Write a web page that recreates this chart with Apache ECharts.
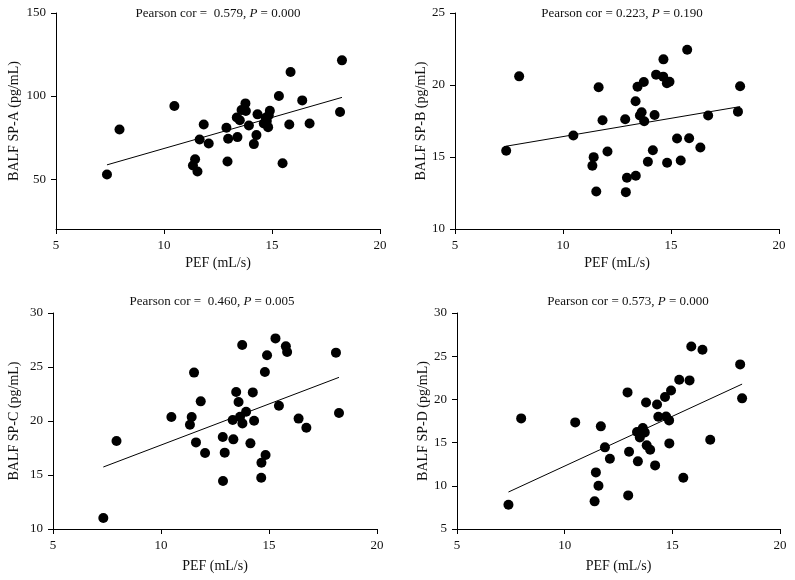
<!DOCTYPE html>
<html>
<head>
<meta charset="utf-8">
<script src="https://cdn.jsdelivr.net/npm/echarts@6/dist/echarts.min.js"></script>
<style>html,body{margin:0;padding:0;background:#fff}#c{width:795px;height:580px}</style>
</head>
<body>
<div id="c"></div>
<script>
// ---- Data ----
const xTicks = [5, 10, 15, 20];

const pefA = [7.36, 7.94, 10.48, 11.44, 11.34, 11.55, 11.65, 11.84, 12.07, 12.89, 12.97, 12.94, 13.37, 13.40, 13.51, 13.59, 13.77, 13.79, 13.93, 14.16, 14.28, 14.33, 14.62, 14.71, 14.82, 14.90, 14.76, 15.32, 15.49, 15.86, 15.80, 16.40, 16.74, 18.15, 18.24, 14.85];
const spA  = [52.8, 79.9, 94.0, 62.0, 58.2, 54.6, 73.9, 82.9, 71.5, 80.9, 74.3, 60.6, 87.1, 75.3, 85.5, 91.6, 95.6, 91.0, 82.3, 71.1, 76.5, 89.0, 83.5, 86.9, 81.3, 91.2, 85.0, 100.0, 59.6, 114.5, 82.9, 97.4, 83.5, 90.4, 121.5, 88.5];
const fitA = [[7.36, 58.6], [18.24, 99.2]];

const pefB = [7.37, 7.97, 10.48, 11.36, 11.42, 11.54, 11.65, 11.83, 12.06, 12.88, 12.96, 12.91, 13.36, 13.37, 13.45, 13.56, 13.64, 13.74, 13.76, 13.93, 14.16, 14.24, 14.31, 14.64, 14.65, 14.81, 14.93, 14.82, 15.28, 15.45, 15.75, 15.84, 16.36, 16.72, 18.10, 18.20];
const spB  = [15.43, 20.60, 16.49, 14.39, 14.99, 12.61, 19.84, 17.55, 15.38, 17.62, 13.56, 12.56, 18.87, 13.70, 19.88, 17.88, 18.11, 20.21, 17.48, 14.67, 15.47, 17.92, 20.72, 20.58, 21.78, 20.12, 20.23, 14.60, 16.28, 14.76, 22.45, 16.30, 15.66, 17.88, 18.15, 19.91];
const fitB = [[7.37, 15.75], [18.20, 18.50]];

const pefC = [7.33, 7.94, 10.48, 11.34, 11.42, 11.53, 11.62, 11.84, 12.04, 12.86, 12.95, 12.87, 13.32, 13.35, 13.48, 13.59, 13.66, 13.76, 13.77, 13.94, 14.14, 14.25, 14.31, 14.64, 14.65, 14.81, 14.84, 14.91, 15.30, 15.46, 15.78, 15.84, 16.37, 16.73, 18.10, 18.24];
const spC  = [11.02, 18.15, 20.37, 19.66, 20.37, 24.48, 18.02, 21.82, 17.04, 18.52, 17.07, 14.44, 20.09, 18.30, 22.69, 21.76, 20.40, 27.04, 19.78, 20.86, 17.93, 22.65, 20.03, 14.75, 16.14, 24.54, 16.85, 26.08, 27.65, 21.42, 26.91, 26.39, 20.22, 19.38, 26.33, 20.74];
const fitC = [[7.33, 15.74], [18.24, 24.04]];

const pefD = [7.39, 7.98, 10.49, 11.39, 11.45, 11.57, 11.68, 11.87, 12.10, 12.92, 12.99, 12.95, 13.40, 13.36, 13.49, 13.56, 13.63, 13.72, 13.78, 13.81, 13.97, 14.20, 14.29, 14.35, 14.66, 14.71, 14.85, 14.86, 14.94, 15.32, 15.51, 15.80, 15.88, 16.40, 16.76, 18.15, 18.24];
const spD  = [7.81, 17.80, 17.34, 8.20, 11.55, 10.01, 16.88, 14.45, 13.14, 20.81, 13.95, 8.89, 12.83, 16.22, 15.60, 16.30, 16.68, 16.18, 19.65, 14.68, 14.18, 12.36, 19.42, 17.99, 20.27, 18.03, 17.57, 14.91, 21.04, 22.28, 10.94, 22.20, 26.13, 25.75, 15.33, 24.05, 20.12];
const fitD = [[7.39, 9.28], [18.24, 21.77]];

const panels = [
  {name: 'BALF SP-A (pg/mL)', r: '0.579', p: '0.000', sep: ' =  ', x: pefA, y: spA, fit: fitA,
   ymin: 20, ymax: 150, yTicks: [50, 100, 150]},
  {name: 'BALF SP-B (pg/mL)', r: '0.223', p: '0.190', sep: ' = ', x: pefB, y: spB, fit: fitB,
   ymin: 10, ymax: 25, yTicks: [10, 15, 20, 25]},
  {name: 'BALF SP-C (pg/mL)', r: '0.460', p: '0.005', sep: ' =  ', x: pefC, y: spC, fit: fitC,
   ymin: 10, ymax: 30, yTicks: [10, 15, 20, 25, 30]},
  {name: 'BALF SP-D (pg/mL)', r: '0.573', p: '0.000', sep: ' = ', x: pefD, y: spD, fit: fitD,
   ymin: 5, ymax: 30, yTicks: [5, 10, 15, 20, 25, 30]}
];

// ---- Layout ----
const FONT = 'Liberation Serif';
const grids = [
  {left: 56, top: 13, width: 324, height: 216, titleX: 218, titleY: 14, nameGap: 35, xNameGap: 27},
  {left: 455, top: 13, width: 324, height: 216, titleX: 622, titleY: 14, nameGap: 26, xNameGap: 27},
  {left: 53, top: 313, width: 324, height: 216, titleX: 212, titleY: 302, nameGap: 32, xNameGap: 30},
  {left: 457, top: 313, width: 323, height: 216, titleX: 628, titleY: 302, nameGap: 26, xNameGap: 30}
];

const axisLine = {show: true, onZero: false, lineStyle: {color: '#000', width: 1}};
const axisTick = {show: true, inside: false, length: 5, lineStyle: {color: '#000', width: 1}};
const labelStyle = {color: '#111', fontFamily: FONT, fontSize: 13};
const nameStyle = {color: '#111', fontFamily: FONT, fontSize: 14};

const option = {
  backgroundColor: '#fff',
  animation: false,
  grid: [], xAxis: [], yAxis: [], series: [], graphic: []
};

panels.forEach((p, i) => {
  const g = grids[i];
  option.grid.push({left: g.left, top: g.top, width: g.width, height: g.height, containLabel: false});
  option.xAxis.push({
    type: 'value', gridIndex: i, min: 5, max: 20, interval: 5,
    name: 'PEF (mL/s)', nameLocation: 'middle', nameGap: g.xNameGap, nameTextStyle: nameStyle,
    axisLine: axisLine,
    axisTick: Object.assign({}, axisTick, {customValues: xTicks}),
    axisLabel: Object.assign({margin: 10, customValues: xTicks}, labelStyle),
    splitLine: {show: false}
  });
  option.yAxis.push({
    type: 'value', gridIndex: i, min: p.ymin, max: p.ymax,
    name: p.name, nameLocation: 'middle', nameGap: g.nameGap, nameTextStyle: nameStyle,
    axisLine: axisLine,
    axisTick: Object.assign({}, axisTick, {customValues: p.yTicks}),
    axisLabel: Object.assign({margin: 10, customValues: p.yTicks}, labelStyle),
    splitLine: {show: false}
  });
  option.series.push({
    type: 'scatter', xAxisIndex: i, yAxisIndex: i,
    symbol: 'circle', symbolSize: 10,
    itemStyle: {color: '#000', opacity: 1},
    data: p.x.map((v, k) => [v, p.y[k]]),
    z: 3
  });
  option.series.push({
    type: 'line', xAxisIndex: i, yAxisIndex: i,
    showSymbol: false, symbol: 'none',
    lineStyle: {color: '#000', width: 1},
    data: p.fit,
    z: 2
  });
  option.graphic.push({
    type: 'text', x: g.titleX, y: g.titleY,
    style: {
      text: '{n|Pearson cor' + p.sep + p.r + ', }{i|P}{n| = ' + p.p + '}',
      align: 'center', verticalAlign: 'middle',
      rich: {
        n: {fontFamily: FONT, fontSize: 13, fill: '#111'},
        i: {fontFamily: FONT, fontSize: 13, fontStyle: 'italic', fill: '#111'}
      }
    }
  });
});

const chart = echarts.init(document.getElementById('c'), null, {renderer: 'canvas'});
chart.setOption(option);
</script>
</body>
</html>
